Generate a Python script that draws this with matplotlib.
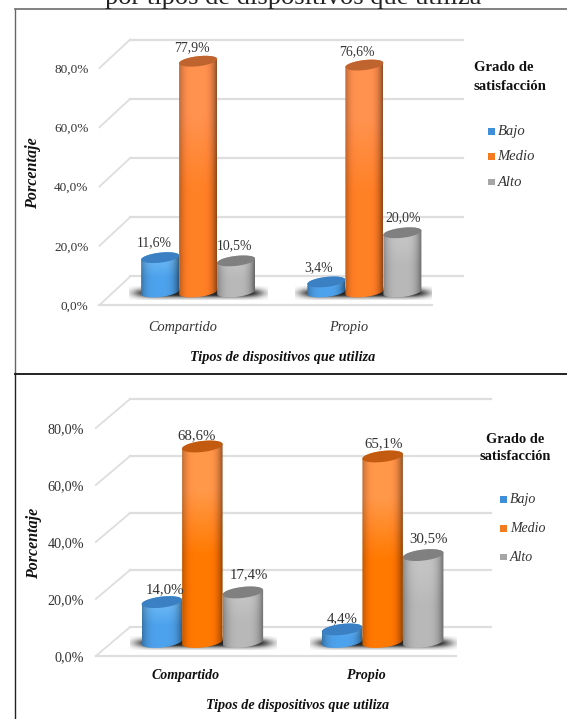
#! /usr/bin/env python
# Two 3D-look cylinder bar charts, satisfaction by type of device

import numpy as np
import matplotlib
matplotlib.use("Agg")
import matplotlib.pyplot as plt
from matplotlib.lines import Line2D
from matplotlib.patches import Polygon, Rectangle
from matplotlib.colors import to_rgb

plt.rcParams['font.family'] = ['Liberation Serif', 'DejaVu Serif']

W, H = 567, 719

categories = ["Compartido", "Propio"]
series_names = ["Bajo", "Medio", "Alto"]
y_ticks = [0, 20, 40, 60, 80]
y_tick_labels = ["0,0%", "20,0%", "40,0%", "60,0%", "80,0%"]
x_title = "Tipos de dispositivos que utiliza"
y_title = "Porcentaje"
legend_title = "Grado de\nsatisfacción"
page_title = "por tipos de dispositivos que utiliza"

# values
top_bajo = [11.6, 3.4]
top_medio = [77.9, 76.6]
top_alto = [10.5, 20.0]
bottom_bajo = [14.0, 4.4]
bottom_medio = [68.6, 65.1]
bottom_alto = [17.4, 30.5]

# body colours: upper part, lower part, cap
blue = ("#62ade9", "#4a9be2", "#3a80c2")
orange = ("#fb8c4c", "#fc7b24", "#c0642f")
orange2 = ("#ff9246", "#ff7400", "#c25a10")
grey = ("#bababa", "#b0b0b0", "#808080")
legend_colors = ("#3f8fd8", "#f47a20", "#a6a6a6")


def fx(x):
    return x / W


def fy(y):
    return 1 - y / H


def cylinder(ax, xc, base, value, hw, b, slope, cols, z):
    # one cylinder in data units, filled with a shaded image
    t = np.linspace(0, np.pi, 40)
    top = base + value
    cx = np.cos(t)
    sy = np.sin(t)
    upper = np.column_stack([xc + hw * cx, top + b * sy + slope * hw * cx])
    lower = np.column_stack([xc - hw * cx, base - b * sy - slope * hw * cx])
    body = Polygon(np.vstack([lower, upper]), closed=True, transform=ax.transData,
                   fc="none", ec="none", zorder=z)
    ax.add_patch(body)

    u = np.linspace(-1, 1, 60)
    shade = 1.05 - np.where(u < 0, 0.3, 0.48) * np.abs(u) ** 3.5
    v = np.linspace(0, 1, 50)[:, None, None]
    c_top = np.array(to_rgb(cols[0]))
    c_low = np.array(to_rgb(cols[1]))
    mix = np.clip((v - 0.25) / 0.3, 0, 1)
    img = (c_top * (1 - mix) + c_low * mix) * shade[None, :, None]
    img = np.clip(img, 0, 1)
    im = ax.imshow(img, extent=[xc - hw, xc + hw, base - 2 * b, top + 2 * b],
                   origin="upper", aspect="auto", zorder=z, interpolation="bilinear")
    im.set_clip_path(body)

    # cap
    t2 = np.linspace(0, 2 * np.pi, 60)
    cap = np.column_stack([xc + hw * np.cos(t2),
                           top + b * np.sin(t2) + slope * hw * np.cos(t2)])
    ax.add_patch(Polygon(cap, closed=True, fc=cols[2], ec="none", zorder=z + 0.1))


def draw_chart(c, bajo, medio, alto, colors, label_shift, tick_style):
    left, right, y0, y80 = c["left"], c["right"], c["y0"], c["y80"]
    y_top = y0 - (y0 - y80) * 100 / 80
    ax = fig.add_axes([fx(left), fy(y0), (right - left) / W, (y0 - y_top) / H])
    ax.patch.set_alpha(0)
    for s in ax.spines.values():
        s.set_visible(False)
    ux = (right - left) / 2.0
    uy = (y0 - y80) / 80.0

    ax.set_yticks(y_ticks)
    ax.set_yticklabels(y_tick_labels, fontsize=c["tick_fs"], color="#333333")
    ax.set_xticks(range(len(categories)))
    ax.set_xticklabels(categories, fontsize=c["cat_fs"], color=tick_style[1],
                       fontweight=tick_style[0], fontstyle="italic")
    ax.tick_params(axis="y", length=0, pad=c["ypad"])
    ax.tick_params(axis="x", length=0, pad=c["xpad"])

    # walls and floor
    wx = c["wall_dx"] / ux
    wy = c["wall_dy"] / uy
    gc = "#dedede"
    x_back_end = 1.5 + wx
    for v in y_ticks:
        ax.plot([-0.5, -0.5 + wx], [v, v + wy], color=gc, lw=1.3, clip_on=False, zorder=1)
        ax.plot([-0.5 + wx, x_back_end], [v + wy, v + wy], color=gc, lw=1.6, clip_on=False, zorder=1)
    ax.plot([-0.5, 1.5], [0, 0], color=gc, lw=1.6, clip_on=False, zorder=1)

    dx = c["bar_dx"] / ux
    base = c["bar_dy"] / uy
    w = c["bar_w"] / ux
    b = c["cap_b"] / uy
    slope = 0.11 * ux / uy
    values = [bajo, medio, alto]

    # soft shadow on the floor under each group
    yy, xx = np.mgrid[-1:1:40j, -1:1:160j]
    a = np.exp(-(np.abs(xx) ** 8 * 2.0 + np.abs(yy) ** 2 * 2.5))
    shadow = np.zeros(a.shape + (4,))
    shadow[..., :3] = 0.15
    shadow[..., 3] = np.clip(a * 1.25, 0, 1)
    for i in range(len(categories)):
        ax.imshow(shadow, extent=[i + dx - 1.5 * w - 12 / ux, i + dx + 1.5 * w + 13 / ux,
                                  base - 8 / uy, base + 6 / uy],
                  aspect="auto", zorder=2, interpolation="bilinear")

    # orange is drawn last so it overlaps its neighbours
    for k in [0, 2, 1]:
        for i in range(len(categories)):
            xc = i + dx + (k - 1) * w
            cylinder(ax, xc, base, values[k][i], w / 2, b, slope, colors[k], 3 + k % 2)
            sx, sy = label_shift[k][i]
            ax.annotate(("%.1f" % values[k][i]).replace(".", ",") + "%",
                        (xc, base + values[k][i]), xytext=(sx * 0.72, sy * 0.72),
                        textcoords="offset points", ha="center", va="center",
                        fontsize=c["val_fs"], color="#333333", annotation_clip=False, zorder=8)

    ax.set_xlim(-0.5, 1.5)
    ax.set_ylim(0, 100)

    fig.text(fx(c["ytitle_x"]), fy(c["ytitle_y"]), y_title, rotation=90, ha="center", va="center",
             fontsize=c["ytitle_fs"], fontweight="bold", fontstyle="italic", color="#111111")
    fig.text(fx(c["xtitle_x"]), fy(c["xtitle_y"]), x_title, ha="center", va="center",
             fontsize=c["title_fs"], fontweight="bold", fontstyle="italic", color="#111111")

    # legend
    fig.text(fx(c["lt_x"]), fy(c["lt_y"]), legend_title, ha=c["lt_ha"], va="center", multialignment=c["lt_ha"],
             fontsize=c["lt_fs"], fontweight="bold", color="#111111", linespacing=c["lt_ls"])
    for k, name in enumerate(series_names):
        yk = c["leg_y"] + k * c["leg_step"]
        fig.add_artist(Rectangle((fx(c["leg_x"]), fy(yk + 3.2)), 7 / W, 6.5 / H,
                                 transform=fig.transFigure, fc=legend_colors[k], ec="none"))
        fig.text(fx(c["leg_x"] + 10), fy(yk), name, ha="left", va="center", fontsize=c["leg_fs"],
                 fontstyle="italic", color="#333333")


fig = plt.figure(figsize=(W / 100.0, H / 100.0), dpi=100, facecolor="white")

fig.text(fx(293), fy(3.7), page_title, ha="center", va="baseline", fontsize=19, color="#222222")

# white strip under the frame line hides the foot of the clipped title
fig.add_artist(Rectangle((0, fy(20)), 1, 11.5 / H, transform=fig.transFigure, fc="white", ec="none", zorder=0.5))

# page frame around the two charts
fig.add_artist(Line2D([fx(14.5), fx(14.5)], [fy(9), fy(373)], color="#666666", lw=1.0))
fig.add_artist(Line2D([fx(14.5), fx(W)], [fy(8.5), fy(8.5)], color="#777777", lw=1.3))
fig.add_artist(Line2D([fx(14.5), fx(14.5)], [fy(373), fy(H)], color="#222222", lw=1.0))
fig.add_artist(Line2D([fx(14.5), fx(W)], [fy(373.5), fy(373.5)], color="#222222", lw=1.4))

top_cfg = dict(left=99.5, right=432, y0=305, y80=68, wall_dx=30.7, wall_dy=28.5,
               bar_dx=15.5, bar_dy=13, bar_w=38, cap_b=5, tick_fs=9.5, cat_fs=10.3, val_fs=9.9,
               ypad=8, xpad=11.5, title_fs=10.3, ytitle_fs=11.6, ytitle_x=33, ytitle_y=173,
               xtitle_x=283, xtitle_y=357, lt_x=474, lt_y=77, lt_ha="left", lt_fs=10.6, lt_ls=1.55,
               leg_x=487.5, leg_y=131.5, leg_step=25.3, leg_fs=10.5)
bottom_cfg = dict(left=95.8, right=456.4, y0=656, y80=428, wall_dx=34.3, wall_dy=29,
                  bar_dx=16.4, bar_dy=14, bar_w=40.5, cap_b=5.5, tick_fs=10.2, cat_fs=10, val_fs=10.7,
                  ypad=8.3, xpad=9.5, title_fs=10.2, ytitle_fs=11.5, ytitle_x=34.4, ytitle_y=543,
                  xtitle_x=298, xtitle_y=705, lt_x=515.4, lt_y=448, lt_ha="center", lt_fs=10.4, lt_ls=1.4,
                  leg_x=500, leg_y=499.5, leg_step=28.8, leg_fs=10)

top_shift = [[(-5.6, 15), (-8, 14)], [(-6.3, 14), (-8, 13)], [(-2, 15), (0.5, 15)]]
bottom_shift = [[(3, 12), (0.5, 11)], [(-6, 11), (1, 13)], [(6, 18), (5, 16)]]

draw_chart(top_cfg, top_bajo, top_medio, top_alto, (blue, orange, grey), top_shift, ("normal", "#333333"))
draw_chart(bottom_cfg, bottom_bajo, bottom_medio, bottom_alto, (blue, orange2, grey), bottom_shift, ("bold", "#111111"))

fig.savefig("out.png", dpi=100)
